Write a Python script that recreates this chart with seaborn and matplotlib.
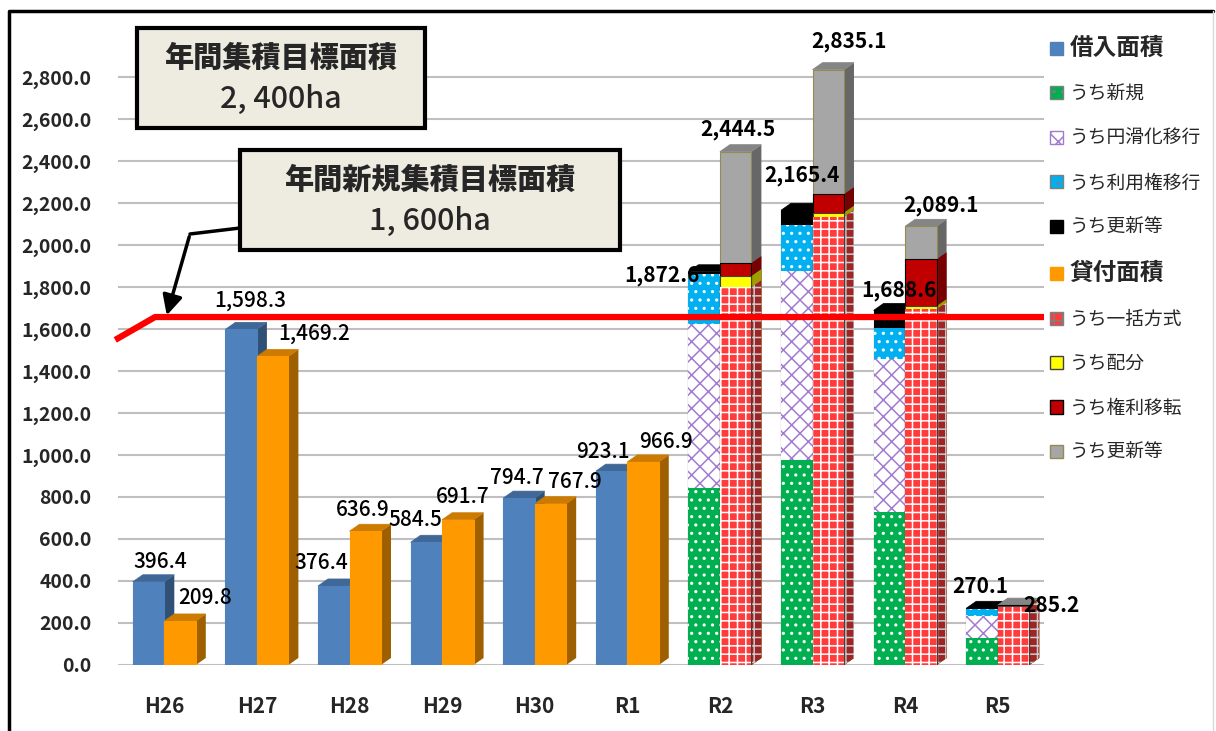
"""Farmland bank borrow / lend area by fiscal year (seaborn re-draw)."""

import matplotlib

matplotlib.use("Agg")
import matplotlib.pyplot as plt
import numpy as np
import pandas as pd
import seaborn as sns
from matplotlib.colors import to_rgb
from matplotlib.lines import Line2D
from matplotlib.patches import FancyArrowPatch, Patch, Polygon, Rectangle

W_PX, H_PX = 1216, 731

# --- data (ha) ---
YEARS = ["H26", "H27", "H28", "H29", "H30", "R1", "R2", "R3", "R4", "R5"]
BORROW_TOTAL = [396.4, 1598.3, 376.4, 584.5, 794.7, 923.1, 1872.6, 2165.4, 1688.6, 270.1]
LEND_TOTAL = [209.8, 1469.2, 636.9, 691.7, 767.9, 966.9, 2444.5, 2835.1, 2089.1, 285.2]

# breakdown exists from R2 onward
BREAKDOWN_YEARS = ["R2", "R3", "R4", "R5"]
BORROW_NEW = [841.0, 978.0, 730.0, 127.0]
BORROW_SMOOTH = [782.0, 897.0, 726.0, 106.0]
BORROW_USE_RIGHT = [238.0, 219.0, 147.0, 32.0]
BORROW_RENEW = [11.6, 71.4, 85.6, 5.1]
LEND_BULK = [1799.0, 2134.0, 1694.0, 278.0]
LEND_ALLOC = [53.0, 20.0, 15.0, 2.0]
LEND_TRANSFER = [62.0, 88.0, 223.0, 5.2]
LEND_RENEW = [530.5, 593.1, 157.1, 0.0]

TARGET_TOTAL = 2400
TARGET_NEW = 1600

KINDS = ["借入面積", "貸付面積"]

# --- styles ---
STYLE = {
    "借入面積": dict(face="#4F81BD", edge="#4F81BD", hatch=None),
    "うち新規": dict(face="#00B050", edge="white", hatch=".."),
    "うち円滑化移行": dict(face="white", edge="#A07BCF", hatch="xx"),
    "うち利用権移行": dict(face="#00B0F0", edge="white", hatch=".."),
    "うち更新等_b": dict(face="black", edge="black", hatch=None),
    "貸付面積": dict(face="#FF9900", edge="#FF9900", hatch=None),
    "うち一括方式": dict(face="#FF3B3B", edge="white", hatch="++"),
    "うち配分": dict(face="#FFFF00", edge="#404040", hatch=None),
    "うち権利移転": dict(face="#C00000", edge="black", hatch=None),
    "うち更新等_l": dict(face="#A6A6A6", edge="#948A54", hatch=None),
}

BORROW_SEGMENTS = [
    ("うち新規", BORROW_NEW),
    ("うち円滑化移行", BORROW_SMOOTH),
    ("うち利用権移行", BORROW_USE_RIGHT),
    ("うち更新等_b", BORROW_RENEW),
]
LEND_SEGMENTS = [
    ("うち一括方式", LEND_BULK),
    ("うち配分", LEND_ALLOC),
    ("うち権利移転", LEND_TRANSFER),
    ("うち更新等_l", LEND_RENEW),
]

# label offsets in pixels (dx, dy above bar top)
BORROW_LABEL_OFFSETS = [(12, 20), (9, 29), (-12, 23), (-11, 22), (-2, 20),
                        (-9, 19), (-42, -4), (5, 35), (10, 20), (-2, 22)]
LEND_LABEL_OFFSETS = [(25, 23), (41, 23), (-2, 21), (5, 23), (24, 22),
                      (23, 20), (2, 22), (21, 28), (20, 21), (38, 0)]

# pseudo-3D depth of the bars, in pixels
DEPTH_X_PX, DEPTH_Y_PX = 10, 7

sns.set_style("white")
plt.rcParams["font.family"] = ["Noto Sans CJK JP", "DejaVu Sans"]
plt.rcParams["hatch.linewidth"] = 1.1


def fx(px):
    return px / W_PX


def fy(py):
    return 1 - py / H_PX


def shade(color, k):
    return tuple(np.clip(np.array(to_rgb(color)) * k, 0, 1))


def draw_layer(ax, years, heights, kind, style):
    df = pd.DataFrame({"year": years, "value": heights, "kind": kind})
    n0 = len(ax.patches)
    sns.barplot(
        data=df, x="year", y="value", hue="kind", order=YEARS, hue_order=KINDS,
        palette={k: style["face"] for k in KINDS}, width=0.68, dodge=True,
        saturation=1, errorbar=None, legend=False, ax=ax,
    )
    for p in ax.patches[n0:]:
        p.set_edgecolor(style["edge"])
        p.set_linewidth(0.8 if style["hatch"] is None else 0)
        if style["hatch"]:
            p.set_hatch(style["hatch"])
        p.set_zorder(2)
        p._bar_style = style


fig = plt.figure(figsize=(W_PX / 100, H_PX / 100), dpi=100)
ax = fig.add_axes([fx(118), fy(665), fx(1044) - fx(118), fy(35) - fy(665)])

# simple bars before the breakdown years
early = [y for y in YEARS if y not in BREAKDOWN_YEARS]
n_early = len(early)
draw_layer(ax, early, BORROW_TOTAL[:n_early], "借入面積", STYLE["借入面積"])
draw_layer(ax, early, LEND_TOTAL[:n_early], "貸付面積", STYLE["貸付面積"])

# stacked bars: draw cumulative heights from the top segment down
for kind, segments in (("借入面積", BORROW_SEGMENTS), ("貸付面積", LEND_SEGMENTS)):
    cum = pd.DataFrame({name: vals for name, vals in segments}).cumsum(axis=1)
    for name, _ in reversed(segments):
        draw_layer(ax, BREAKDOWN_YEARS, cum[name].tolist(), kind, STYLE[name])

ax.set_xlim(-0.5, len(YEARS) - 0.5)
ax.set_ylim(0, 3000)

# side and top faces, derived from the seaborn bar patches
bbox = ax.get_position()
ax_w_px, ax_h_px = bbox.width * W_PX, bbox.height * H_PX
ddx = DEPTH_X_PX * (len(YEARS)) / ax_w_px
ddy = DEPTH_Y_PX * 3000 / ax_h_px
seen = set()
for p in list(ax.patches):
    st = p._bar_style
    x0, w, h = p.get_x(), p.get_width(), p.get_height()
    x1 = x0 + w
    side = Polygon([(x1, 0), (x1 + ddx, ddy), (x1 + ddx, h + ddy), (x1, h)],
                   closed=True, facecolor=shade(st["face"], 0.62),
                   edgecolor=shade(st["edge"], 0.8) if st["hatch"] else shade(st["face"], 0.62),
                   linewidth=0, hatch=st["hatch"], zorder=1.5)
    ax.add_patch(side)
    key = round(x0, 3)
    if key not in seen:
        seen.add(key)
        top = Polygon([(x0, h), (x0 + ddx, h + ddy), (x1 + ddx, h + ddy), (x1, h)],
                      closed=True, facecolor=shade(st["face"], 0.8),
                      edgecolor=shade(st["face"], 0.8), linewidth=0.5, zorder=1.5)
        ax.add_patch(top)

ax.set_yticks(range(0, 2801, 200))
ax.set_yticklabels([f"{v:,.1f}" for v in range(0, 2801, 200)], fontsize=14, fontweight="bold")
ax.set_xticks(range(len(YEARS)))
ax.set_xticklabels(YEARS, fontsize=15, fontweight="bold")
ax.tick_params(axis="y", length=0, pad=19)
ax.tick_params(axis="x", length=0, pad=22)
ax.set_xlabel("")
ax.set_ylabel("")
ax.grid(axis="y", color="#BFBFBF", linewidth=1.5, zorder=0)
ax.set_axisbelow(True)
for s in ax.spines.values():
    s.set_visible(False)

# value labels
for i, year in enumerate(YEARS):
    for kind, totals, offs, shift in (
        ("借入面積", BORROW_TOTAL, BORROW_LABEL_OFFSETS, -0.17),
        ("貸付面積", LEND_TOTAL, LEND_LABEL_OFFSETS, 0.17),
    ):
        dx, dy = offs[i]
        bold = year in BREAKDOWN_YEARS
        ax.annotate(
            f"{totals[i]:,.1f}", xy=(i + shift, totals[i]), xytext=(dx, dy),
            textcoords="offset pixels", ha="center", va="center", fontsize=15,
            fontweight="bold" if bold else "medium", color="black", zorder=6,
            annotation_clip=False,
        )

# new-area target line (drawn on the 3D back wall in the original)
wall_offset = 57
ax.plot([-0.53, -0.1, len(YEARS) - 0.5],
        [TARGET_NEW - 52, TARGET_NEW + wall_offset, TARGET_NEW + wall_offset],
        color="#FF0000", linewidth=4.5, solid_capstyle="butt", clip_on=False, zorder=5)

# target boxes
box_face = "#EEECE1"
for (x0, y0, x1, y1), line1, line2 in (
    ((137, 28, 425, 128), "年間集積目標面積", f"{TARGET_TOTAL // 1000}, {TARGET_TOTAL % 1000:03d}ha"),
    ((240, 150, 620, 250), "年間新規集積目標面積", f"{TARGET_NEW // 1000}, {TARGET_NEW % 1000:03d}ha"),
):
    fig.add_artist(Rectangle((fx(x0), fy(y1)), fx(x1 - x0), fy(y0) - fy(y1),
                             transform=fig.transFigure, facecolor=box_face,
                             edgecolor="black", linewidth=3, zorder=7))
    cx = (x0 + x1) / 2
    fig.text(fx(cx), fy(y0 + 30), line1, ha="center", va="center", fontsize=21,
             fontweight="heavy", zorder=8)
    fig.text(fx(cx), fy(y0 + 71), line2, ha="center", va="center", fontsize=22,
             fontweight="medium", zorder=8)

# arrow from the new-area box to the target line
fig.add_artist(Line2D([fx(240), fx(190)], [fy(228), fy(234)], transform=fig.transFigure,
                      color="black", linewidth=2.5, zorder=7))
fig.add_artist(FancyArrowPatch(
    (fx(190), fy(234)), (fx(166), fy(318)), transform=fig.transFigure,
    arrowstyle="-|>,head_length=8,head_width=4", color="black", linewidth=2.5,
    mutation_scale=1.5, zorder=7))

# legend
legend_items = [
    ("借入面積", "借入面積"), ("うち新規", "うち新規"), ("うち円滑化移行", "うち円滑化移行"),
    ("うち利用権移行", "うち利用権移行"), ("うち更新等", "うち更新等_b"),
    ("貸付面積", "貸付面積"), ("うち一括方式", "うち一括方式"), ("うち配分", "うち配分"),
    ("うち権利移転", "うち権利移転"), ("うち更新等", "うち更新等_l"),
]
handles = []
for label, key in legend_items:
    st = STYLE[key]
    edge = "#7F7F7F" if st["hatch"] and st["edge"] == "white" else st["edge"]
    handles.append(Patch(facecolor=st["face"], edgecolor=edge, hatch=st["hatch"],
                         linewidth=1, label=label))
leg = fig.legend(handles=handles, loc="upper left", bbox_to_anchor=(fx(1050), fy(36)),
                 frameon=False, fontsize=13.5, handlelength=0.7, handleheight=0.7,
                 handletextpad=0.35, labelspacing=1.25, borderpad=0, borderaxespad=0)
for txt in leg.get_texts():
    if txt.get_text() in KINDS:
        txt.set_fontsize(17)
        txt.set_fontweight("bold")

# outer frame
fig.add_artist(Line2D([fx(9), fx(9), fx(1213)], [fy(H_PX + 5), fy(11), fy(11)],
                      transform=fig.transFigure, color="black", linewidth=2.5))
fig.add_artist(Line2D([fx(1213), fx(1213)], [fy(11), fy(H_PX + 5)],
                      transform=fig.transFigure, color="#D9D9D9", linewidth=1))

fig.savefig("out.png", dpi=100)
